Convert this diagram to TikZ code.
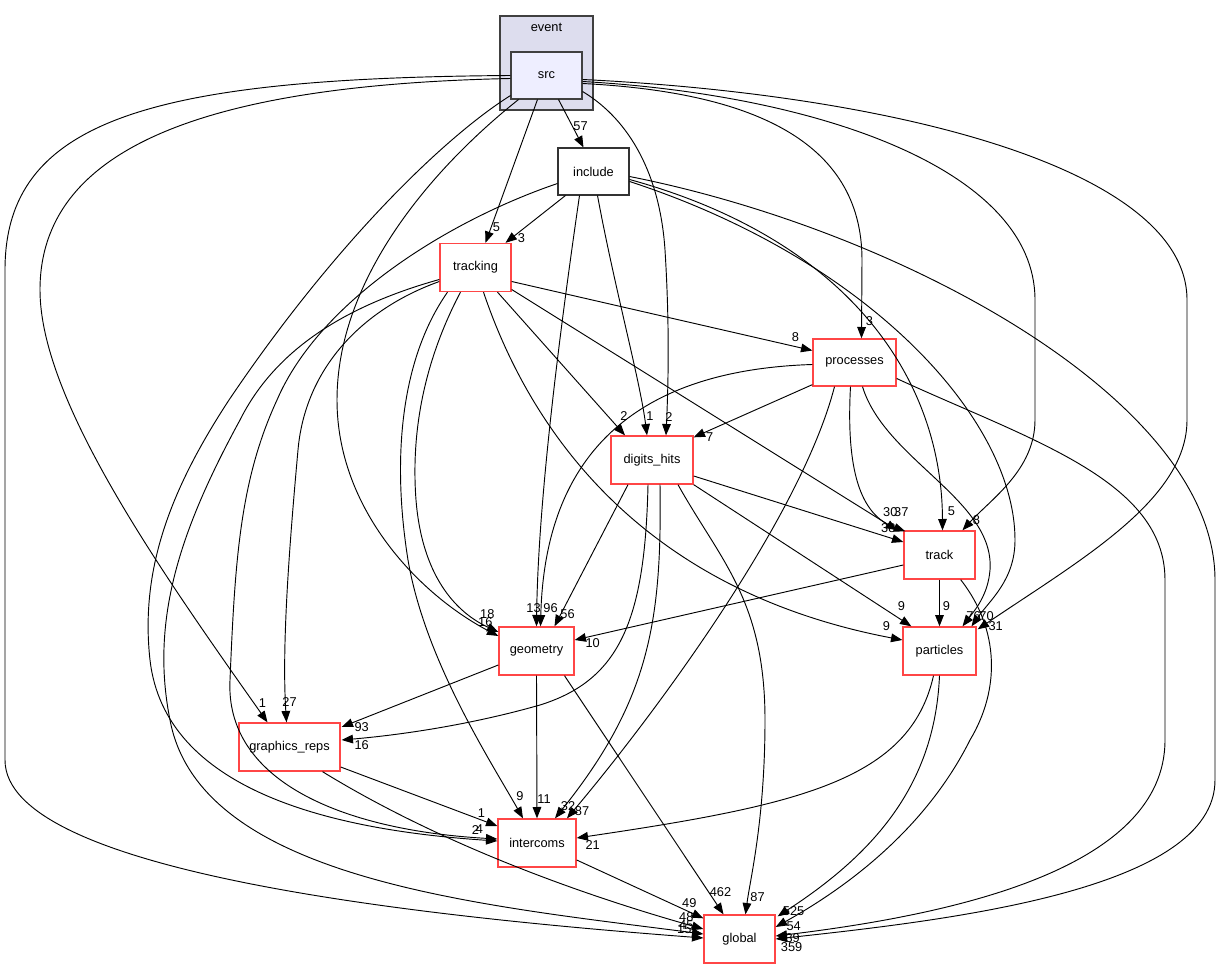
\documentclass[tikz,border=0pt]{standalone}
\usepackage{fontspec}
\setmainfont{Liberation Sans}
\usetikzlibrary{arrows.meta,calc}
\definecolor{dirred}{RGB}{255,70,70}
\definecolor{clusterfill}{RGB}{221,221,238}
\definecolor{srcfill}{RGB}{238,238,255}
\begin{document}
\begin{tikzpicture}[x=0.75pt, y=-0.75pt, plainbox/.style={draw=black!80, line width=0.8pt, minimum height=35.25pt, inner sep=1pt, font=\fontsize{9.6}{11}\selectfont}, dirbox/.style={plainbox, draw=dirred, line width=1pt, minimum height=36pt}, dep/.style={-{Triangle[length=8.5pt,width=6.5pt]}, line width=0.7pt}, lbl/.style={inner sep=0pt, font=\fontsize{9.6}{10}\selectfont}]
\useasboundingbox (0,0) rectangle (1221,969);
% directories
\node[plainbox, fill=clusterfill, draw=black!75, minimum width=69.75pt, minimum height=70.5pt] (event) at (546.5,63) {};
\node[font=\fontsize{9.6}{11}\selectfont] (eventname) at (546.5,27) {event};
\node[plainbox, fill=srcfill, draw=black!75, minimum width=53.25pt] (src) at (546.5,75.5) {src};
\node[plainbox, minimum width=53.25pt] (include) at (593.5,171.5) {include};
\node[dirbox, minimum width=53.25pt] (tracking) at (475.5,267.5) {tracking};
\node[dirbox, minimum width=62.25pt, minimum height=35.25pt] (processes) at (854.5,362.5) {processes};
\node[dirbox, minimum width=61.5pt] (digitshits) at (652,460) {digits\_hits};
\node[dirbox, minimum width=53.25pt] (track) at (939.5,555) {track};
\node[dirbox, minimum width=56.25pt] (geometry) at (536.5,651) {geometry};
\node[dirbox, minimum width=54.75pt] (particles) at (939.5,651) {particles};
\node[dirbox, minimum width=75.75pt] (graphicsreps) at (289.5,747) {graphics\_reps};
\node[dirbox, minimum width=58.5pt] (intercoms) at (537,843) {intercoms};
\node[dirbox, minimum width=53.25pt] (global) at (739.5,939) {global};
% src
\draw[dep] ($(src.south)+(12,0)$) -- ($(include.north)+(-10,0)$) node[lbl, shift={(-3,-21)}] {57};
\draw[dep] ($(src.south)+(-9,0)$) -- ($(tracking.north)+(10,0)$) node[lbl, shift={(11,-16)}] {5};
\draw[dep] ($(src.east)+(0,16)$) .. controls (630,120) and (660,175) .. (665,250) .. controls (670,330) and (668,390) .. ($(digitshits.north)+(14,0)$) node[lbl, shift={(3,-18)}] {2};
\draw[dep] ($(src.east)+(0,8)$) .. controls (750,92) and (862,140) .. (862,260) -- ($(processes.north)+(7,0)$) node[lbl, shift={(8,-17)}] {3};
\draw[dep] ($(src.east)+(0,6)$) .. controls (820,95) and (1035,170) .. (1035,300) -- (1035,420) .. controls (1035,470) and (990,500) .. ($(track.north)+(23,0)$) node[lbl, shift={(14,-10)}] {8};
\draw[dep] ($(src.east)+(0,4)$) .. controls (900,95) and (1187,170) .. (1187,300) -- (1187,420) .. controls (1187,500) and (1080,560) .. ($(particles.north east)+(1,3)$) node[lbl, shift={(18,-3)}] {31};
\draw[dep] (src.west) .. controls (150,78) and (5,120) .. (5,270) -- (5,760) .. controls (5,870) and (400,915) .. ($(global.west)+(0,-1)$) node[lbl, shift={(-19,-9)}] {15};
\draw[dep] ($(src.west)+(0,3)$) .. controls (200,85) and (40,150) .. (40,290) .. controls (40,400) and (160,570) .. ($(graphicsreps.north)+(-22,0)$) node[lbl, shift={(-5,-19)}] {1};
\draw[dep] ($(src.south)+(-28,0)$) .. controls (430,170) and (337,280) .. (337,400) .. controls (337,510) and (420,595) .. ($(geometry.west)+(0,-15)$) node[lbl, shift={(-13,-14)}] {16};
\draw[dep] ($(src.south west)+(0,-4)$) .. controls (440,140) and (330,250) .. (229,400) .. controls (170,490) and (140,570) .. (150,660) .. controls (165,790) and (330,830) .. ($(intercoms.west)+(0,-2)$) node[lbl, shift={(-22,-11)}] {2};
% tracking
\draw[dep] ($(tracking.east)+(0,14)$) -- ($(processes.west)+(0,-12)$) node[lbl, shift={(-17,-13)}] {8};
\draw[dep] ($(tracking.south)+(22,0)$) -- ($(digitshits.north)+(-27,0)$) node[lbl, shift={(-1,-19)}] {2};
\draw[dep] ($(tracking.east)+(0,22)$) -- ($(track.north west)+(-6,0)$) node[lbl, shift={(-7,-18)}] {30};
\draw[dep] ($(tracking.south)+(8,0)$) .. controls (530,430) and (640,590) .. ($(particles.west)+(0,-11)$) node[lbl, shift={(-16,-14)}] {9};
\draw[dep] ($(tracking.south)+(-15,0)$) .. controls (430,350) and (410,420) .. (416,500) .. controls (422,575) and (455,612) .. ($(geometry.west)+(0,-19)$) node[lbl, shift={(-11,-18)}] {18};
\draw[dep] ($(tracking.south)+(-28,0)$) .. controls (400,360) and (392,460) .. (408,560) .. controls (425,660) and (490,760) .. ($(intercoms.north)+(-14,0)$) node[lbl, shift={(-3,-22)}] {9};
\draw[dep] ($(tracking.west)+(0,14)$) .. controls (360,310) and (305,370) .. (298,450) .. controls (288,560) and (282,650) .. ($(graphicsreps.north)+(-3,0)$) node[lbl, shift={(3,-20)}] {27};
\draw[dep] ($(tracking.west)+(0,12)$) .. controls (330,310) and (270,360) .. (240,420) .. controls (180,530) and (150,620) .. (170,720) .. controls (200,880) and (480,905) .. ($(global.west)+(0,-5)$) node[lbl, shift={(-17,-9)}] {45};
% include
\draw[dep] ($(include.south west)+(8,0)$) -- ($(tracking.north)+(30,0)$) node[lbl, shift={(16,-5)}] {3};
\draw[dep] ($(include.south)+(-14,0)$) .. controls (560,330) and (538,500) .. (geometry.north) node[lbl, shift={(-3,-18)}] {13};
\draw[dep] ($(include.south)+(4,0)$) .. controls (615,290) and (640,380) .. ($(digitshits.north)+(-5,0)$) node[lbl, shift={(3,-19)}] {1};
\draw[dep] ($(include.east)+(0,8)$) .. controls (850,240) and (942,380) .. ($(track.north)+(3,0)$) node[lbl, shift={(9,-19)}] {5};
\draw[dep] ($(include.east)+(0,10)$) .. controls (870,260) and (1015,420) .. (1015,540) .. controls (1015,580) and (990,600) .. ($(particles.north)+(32,0)$) node[lbl, shift={(15,-10)}] {70};
\draw[dep] ($(include.east)+(0,5)$) .. controls (900,230) and (1215,400) .. (1215,580) -- (1215,780) .. controls (1215,890) and (950,920) .. (global.east) node[lbl, shift={(16,8)}] {359};
\draw[dep] ($(include.west)+(0,12)$) .. controls (450,220) and (320,300) .. (277,400) .. controls (240,480) and (235,560) .. (230,680) .. controls (225,780) and (340,830) .. ($(intercoms.west)+(0,-4)$) node[lbl, shift={(-18,-10)}] {4};
% processes
\draw[dep] ($(processes.south west)+(0,-2)$) -- ($(digitshits.north east)+(0,2)$) node[lbl, shift={(16,0)}] {7};
\draw[dep] ($(processes.west)+(0,2)$) .. controls (640,370) and (545,450) .. ($(geometry.north)+(4,0)$) node[lbl, shift={(10,-18)}] {96};
\draw[dep] ($(processes.south)+(-4,0)$) .. controls (846,470) and (860,515) .. ($(track.north west)+(2,1)$) node[lbl, shift={(-4,-19)}] {37};
\draw[dep] ($(processes.south)+(8,0)$) .. controls (885,460) and (995,500) .. (990,570) .. controls (988,595) and (975,610) .. ($(particles.north)+(23,0)$) node[lbl, shift={(11,-10)}] {76};
\draw[dep] ($(processes.south)+(-20,0)$) .. controls (800,520) and (650,720) .. ($(intercoms.north)+(30,0)$) node[lbl, shift={(15,-7)}] {87};
\draw[dep] ($(processes.east)+(0,16)$) .. controls (1030,440) and (1165,480) .. (1165,580) -- (1165,740) .. controls (1165,870) and (950,915) .. ($(global.east)+(0,-3)$) node[lbl, shift={(17,2)}] {39};
% digits_hits
\draw[dep] ($(digitshits.east)+(0,16)$) -- ($(track.west)+(0,-13)$) node[lbl, shift={(-15,-14)}] {38};
\draw[dep] (digitshits.south east) -- ($(particles.north west)+(9,0)$) node[lbl, shift={(-10,-20)}] {9};
\draw[dep] ($(digitshits.south)+(-24,0)$) -- ($(geometry.north)+(18,0)$) node[lbl, shift={(13,-12)}] {56};
\draw[dep] ($(digitshits.south)+(-4,0)$) .. controls (645,620) and (620,680) .. (540,705) .. controls (470,725) and (400,735) .. ($(graphicsreps.east)+(1,-7)$) node[lbl, shift={(20,5)}] {16};
\draw[dep] ($(digitshits.south)+(8,0)$) .. controls (662,620) and (650,700) .. ($(intercoms.north)+(18,0)$) node[lbl, shift={(13,-12)}] {32};
\draw[dep] ($(digitshits.south)+(26,0)$) .. controls (720,560) and (765,600) .. (765,720) .. controls (765,820) and (750,880) .. ($(global.north)+(6,0)$) node[lbl, shift={(12,-17)}] {87};
% track
\draw[dep] (track.south) -- (particles.north) node[lbl, shift={(7,-20)}] {9};
\draw[dep] ($(track.west)+(0,10)$) -- ($(geometry.east)+(0,-11)$) node[lbl, shift={(18,3)}] {10};
\draw[dep] ($(track.south east)+(-15,0)$) .. controls (1000,630) and (1000,690) .. (970,740) .. controls (930,820) and (860,880) .. ($(global.east)+(0,-12)$) node[lbl, shift={(18,-1)}] {54};
% geometry
\draw[dep] ($(geometry.west)+(0,14)$) -- ($(graphicsreps.east)+(1,-20)$) node[lbl, shift={(20,0)}] {93};
\draw[dep] (geometry.south) -- (intercoms.north) node[lbl, shift={(7,-19)}] {11};
\draw[dep] ($(geometry.south)+(28,0)$) -- ($(global.north)+(-16,0)$) node[lbl, shift={(-3,-22)}] {462};
% particles, graphics_reps, intercoms
\draw[dep] ($(particles.south)+(-6,0)$) .. controls (910,780) and (800,805) .. ($(intercoms.east)+(0,-5)$) node[lbl, shift={(16,7)}] {21};
\draw[dep] (particles.south) .. controls (935,780) and (880,850) .. ($(global.north east)+(2,2)$) node[lbl, shift={(16,-5)}] {525};
\draw[dep] ($(graphicsreps.east)+(0,20)$) -- ($(intercoms.west)+(0,-17)$) node[lbl, shift={(-16,-13)}] {1};
\draw[dep] ($(graphicsreps.south)+(33,0)$) .. controls (450,850) and (600,900) .. ($(global.west)+(0,-10)$) node[lbl, shift={(-17,-12)}] {48};
\draw[dep] ($(intercoms.east)+(0,17)$) -- ($(global.north west)+(0,4)$) node[lbl, shift={(-14,-15)}] {49};
\end{tikzpicture}
\end{document}
